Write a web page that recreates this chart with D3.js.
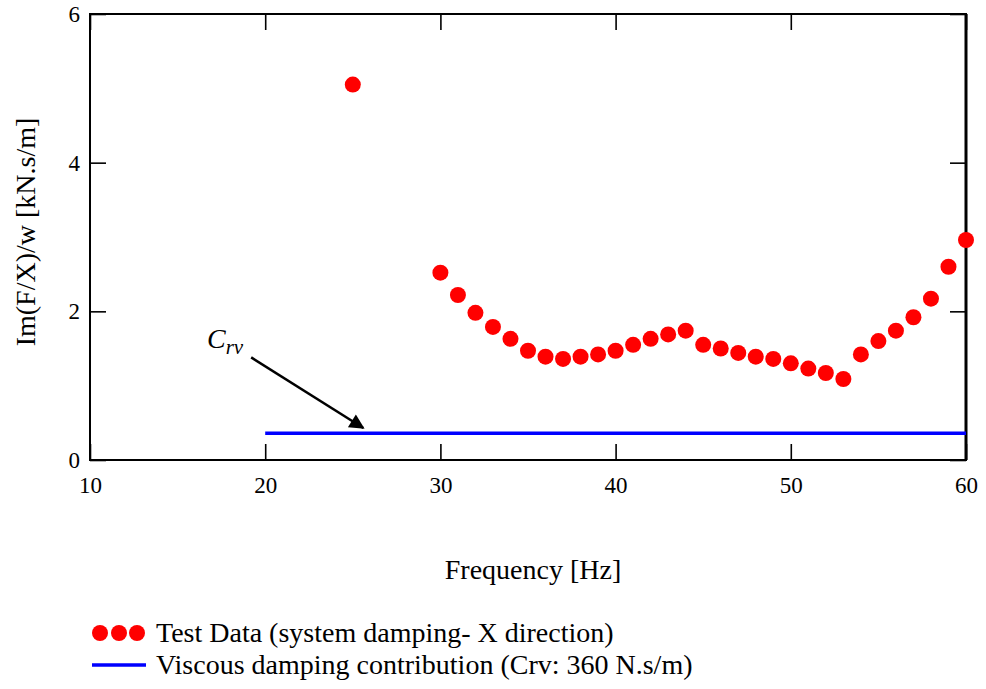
<!DOCTYPE html>
<html>
<head>
<meta charset="utf-8">
<script src="https://cdn.jsdelivr.net/npm/d3@7"></script>
<style>
  body { margin: 0; background: #fff; }
  svg text { font-family: "Liberation Serif", "DejaVu Serif", serif; fill: #000; }
</style>
</head>
<body>
<svg id="chart" width="986" height="689"></svg>
<script>
// Measured system damping, X direction (kN.s/m) versus frequency (Hz)
const freqHz = [25, 30, 31, 32, 33, 34, 35, 36, 37, 38, 39, 40, 41, 42, 43, 44,
                45, 46, 47, 48, 49, 50, 51, 52, 53, 54, 55, 56, 57, 58, 59, 60];
const dampingKN = [5.05, 2.52, 2.22, 1.98, 1.79, 1.63, 1.47, 1.39, 1.36, 1.39, 1.42, 1.47, 1.55, 1.63, 1.69, 1.74,
                   1.55, 1.50, 1.44, 1.39, 1.36, 1.30, 1.23, 1.17, 1.09, 1.42, 1.60, 1.74, 1.92, 2.17, 2.60, 2.96];

// Viscous damping contribution: Crv = 360 N.s/m, drawn from 20 to 60 Hz
const viscousFreq = [20, 60];
const viscousValue = 0.36;

const xTicks = [10, 20, 30, 40, 50, 60];
const yTicks = [0, 2, 4, 6];

const legendLabels = ["Test Data (system damping- X direction)",
                      "Viscous damping contribution (Crv: 360 N.s/m)"];

const serif = "'Liberation Serif', 'DejaVu Serif', serif";
const svg = d3.select("#chart");
const plotLeft = 90, plotRight = 966, plotTop = 14, plotBottom = 460;

const x = d3.scaleLinear().domain([10, 60]).range([plotLeft, plotRight]);
const y = d3.scaleLinear().domain([0, 6]).range([plotBottom, plotTop]);

const tickLen = 16;

// Frame with inward ticks on all four sides
const frame = svg.append("g");
frame.append("rect")
  .attr("x", plotLeft).attr("y", plotTop)
  .attr("width", plotRight - plotLeft).attr("height", plotBottom - plotTop)
  .attr("fill", "none").attr("stroke", "#000").attr("stroke-width", 2);
frame.append("line")
  .attr("x1", plotRight).attr("x2", plotRight).attr("y1", plotTop).attr("y2", plotBottom)
  .attr("stroke", "#000").attr("stroke-width", 3);

const bottomAxis = d3.axisBottom(x).tickValues(xTicks).tickSize(-tickLen).tickPadding(17).tickFormat(d3.format("d"));
const topAxis = d3.axisTop(x).tickValues(xTicks).tickSize(-tickLen).tickFormat("");
const leftAxis = d3.axisLeft(y).tickValues(yTicks).tickSize(-tickLen).tickPadding(10).tickFormat(d3.format("d"));
const rightAxis = d3.axisRight(y).tickValues(yTicks).tickSize(-tickLen).tickFormat("");

function styleAxis(g) {
  g.attr("font-family", serif);
  g.select(".domain").remove();
  g.selectAll(".tick line").attr("stroke", "#000").attr("stroke-width", 1.6);
  g.selectAll(".tick text").attr("font-family", serif).attr("font-size", 23).attr("fill", "#000");
}

svg.append("g").attr("transform", `translate(0,${plotBottom})`).call(bottomAxis).call(styleAxis);
svg.append("g").attr("transform", `translate(0,${plotTop})`).call(topAxis).call(styleAxis);
svg.append("g").attr("transform", `translate(${plotLeft},0)`).call(leftAxis).call(styleAxis);
svg.append("g").attr("transform", `translate(${plotRight},0)`).call(rightAxis).call(styleAxis);

// Axis titles
svg.append("text")
  .attr("x", 533).attr("y", 579)
  .attr("text-anchor", "middle")
  .attr("font-family", serif).attr("font-size", 28)
  .text("Frequency [Hz]");

svg.append("text")
  .attr("transform", "translate(35,232) rotate(-90)")
  .attr("text-anchor", "middle")
  .attr("font-family", serif).attr("font-size", 28)
  .text("Im(F/X)/w [kN.s/m]");

// Viscous damping line
svg.append("line")
  .attr("x1", x(viscousFreq[0])).attr("x2", x(viscousFreq[1]))
  .attr("y1", y(viscousValue)).attr("y2", y(viscousValue))
  .attr("stroke", "#0000ff").attr("stroke-width", 3.5);

// Test data points
svg.append("g").selectAll("circle")
  .data(freqHz.map((f, i) => [f, dampingKN[i]]))
  .join("circle")
  .attr("cx", d => x(d[0]))
  .attr("cy", d => y(d[1]))
  .attr("r", 8)
  .attr("fill", "#ff0000");

// Annotation arrow pointing to the viscous line
const defs = svg.append("defs");
defs.append("marker")
  .attr("id", "arrowhead")
  .attr("viewBox", "0 0 10 10")
  .attr("refX", 9).attr("refY", 5)
  .attr("markerWidth", 7).attr("markerHeight", 6)
  .attr("markerUnits", "strokeWidth")
  .attr("orient", "auto")
  .append("path").attr("d", "M0,0 L10,5 L0,10 Z").attr("fill", "#000");

const arrowStart = [19.2, 1.38];
const arrowEnd = [25.6, 0.43];
svg.append("line")
  .attr("x1", x(arrowStart[0])).attr("y1", y(arrowStart[1]))
  .attr("x2", x(arrowEnd[0])).attr("y2", y(arrowEnd[1]))
  .attr("stroke", "#000").attr("stroke-width", 2.5)
  .attr("marker-end", "url(#arrowhead)");

const crv = svg.append("text")
  .attr("x", 207).attr("y", 348)
  .attr("font-family", serif).attr("font-size", 28)
  .attr("font-style", "italic");
crv.append("tspan").text("C");
crv.append("tspan").attr("dy", 6).attr("font-size", 21).text("rv");

// Legend
const legend = svg.append("g").attr("font-family", serif);
[100, 119, 137].forEach(cx => {
  legend.append("circle").attr("cx", cx).attr("cy", 633).attr("r", 8).attr("fill", "#ff0000");
});
legend.append("line")
  .attr("x1", 92).attr("x2", 146).attr("y1", 665).attr("y2", 665)
  .attr("stroke", "#0000ff").attr("stroke-width", 3.5);
legend.append("text").attr("x", 156).attr("y", 642).attr("font-size", 28).text(legendLabels[0]);
legend.append("text").attr("x", 156).attr("y", 674).attr("font-size", 28).text(legendLabels[1]);
</script>
</body>
</html>
